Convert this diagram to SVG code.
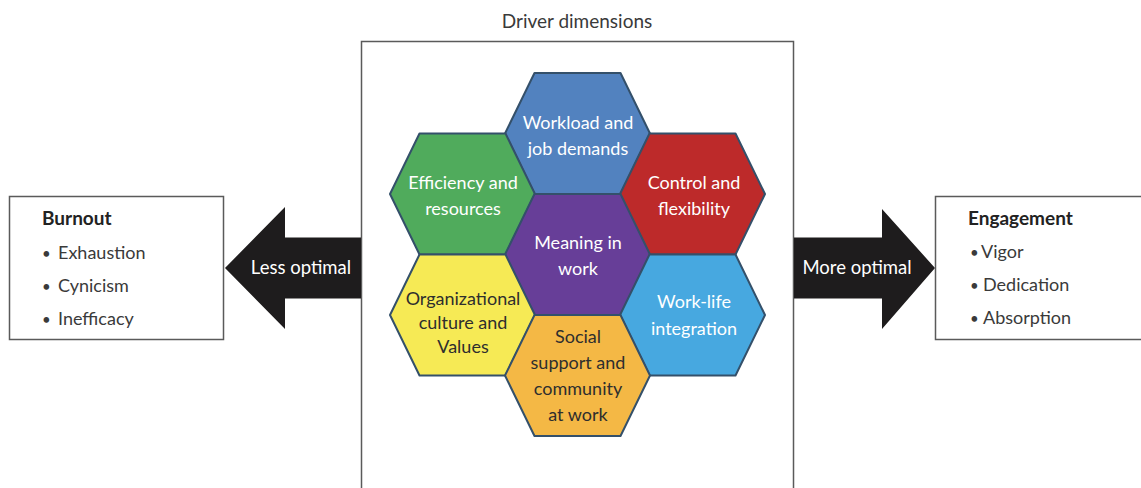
<svg xmlns="http://www.w3.org/2000/svg" xmlns:xlink="http://www.w3.org/1999/xlink" width="1141" height="488" viewBox="0 0 1141 488">
<style>
text{font-family:Lato,"Open Sans","Liberation Sans",sans-serif;font-size:18px;}
.hl{fill:#ffffff;text-anchor:middle;}
.hd{fill:#2e2e2e;text-anchor:middle;}
.box{fill:#ffffff;stroke:#5a5a5a;stroke-width:1.5;}
.hex{stroke:#34506a;stroke-width:2;stroke-linejoin:round;}
.arrow{fill:#1e1c1d;}
.at{fill:#ffffff;text-anchor:middle;font-size:18.5px;}
.ttl{fill:#222;font-weight:bold;font-size:19px;}
.it{fill:#3a3a3a;}
.bul{fill:#3a3a3a;font-size:15px;}
</style>
<defs>
<polygon id="hex" points="-72.5,0 -43,-60.5 43,-60.5 72.5,0 43,60.5 -43,60.5"/>
</defs>
<rect width="1141" height="488" fill="#ffffff"/>

<g id="driver-box">
<rect class="box" x="361.5" y="41.5" width="432" height="460"/>
<text x="577" y="28" text-anchor="middle" fill="#3a3a3a" style="font-size:19px">Driver dimensions</text>
</g>

<g id="connectors">
<g id="arrow-less">
<polygon class="arrow" points="225,268 285,207 285,237.5 361,237.5 361,298.5 285,298.5 285,329"/>
<text class="at" x="301" y="274">Less optimal</text>
</g>
<g id="arrow-more">
<polygon class="arrow" points="794,237.5 882,237.5 882,209 935,268 882,329 882,298.5 794,298.5"/>
<text class="at" x="857" y="274">More optimal</text>
</g>
</g>

<g id="burnout">
<rect class="box" x="9.5" y="196.5" width="214" height="143"/>
<text class="ttl" x="42" y="225">Burnout</text>
<text class="bul" x="42" y="259">•</text><text class="it" x="58" y="259">Exhaustion</text>
<text class="bul" x="42" y="292">•</text><text class="it" x="58" y="292">Cynicism</text>
<text class="bul" x="42" y="325">•</text><text class="it" x="58" y="325">Inefficacy</text>
</g>

<g id="engagement">
<rect class="box" x="935.5" y="196.5" width="210" height="143"/>
<text class="ttl" x="968" y="225">Engagement</text>
<text class="bul" x="970" y="258">•</text><text class="it" x="981" y="258">Vigor</text>
<text class="bul" x="970" y="291">•</text><text class="it" x="983" y="291">Dedication</text>
<text class="bul" x="970" y="324">•</text><text class="it" x="983" y="324">Absorption</text>
</g>

<g id="hex-workload">
<use xlink:href="#hex" href="#hex" class="hex" x="577.5" y="133.5" fill="#5282bf"/>
<text class="hl" x="578" y="129">Workload and</text>
<text class="hl" x="578" y="155">job demands</text>
</g>
<g id="hex-efficiency">
<use xlink:href="#hex" href="#hex" class="hex" x="462.5" y="194" fill="#50ab5c"/>
<text class="hl" x="463" y="189">Efficiency and</text>
<text class="hl" x="463" y="215">resources</text>
</g>
<g id="hex-control">
<use xlink:href="#hex" href="#hex" class="hex" x="692.5" y="194" fill="#bd2a2a"/>
<text class="hl" x="694" y="189">Control and</text>
<text class="hl" x="694" y="215">flexibility</text>
</g>
<g id="hex-meaning">
<use xlink:href="#hex" href="#hex" class="hex" x="577.5" y="254.5" fill="#673e98"/>
<text class="hl" x="578" y="249">Meaning in</text>
<text class="hl" x="578" y="275">work</text>
</g>
<g id="hex-culture">
<use xlink:href="#hex" href="#hex" class="hex" x="462.5" y="315" fill="#f6ea55"/>
<text class="hd" x="463" y="305">Organizational</text>
<text class="hd" x="463" y="329">culture and</text>
<text class="hd" x="463" y="353">Values</text>
</g>
<g id="hex-worklife">
<use xlink:href="#hex" href="#hex" class="hex" x="692.5" y="315" fill="#47a8e0"/>
<text class="hl" x="694" y="308">Work-life</text>
<text class="hl" x="694" y="335">integration</text>
</g>
<g id="hex-social">
<use xlink:href="#hex" href="#hex" class="hex" x="577.5" y="375.5" fill="#f4b845"/>
<text class="hd" x="578" y="343">Social</text>
<text class="hd" x="578" y="369">support and</text>
<text class="hd" x="578" y="395">community</text>
<text class="hd" x="578" y="421">at work</text>
</g>
</svg>
